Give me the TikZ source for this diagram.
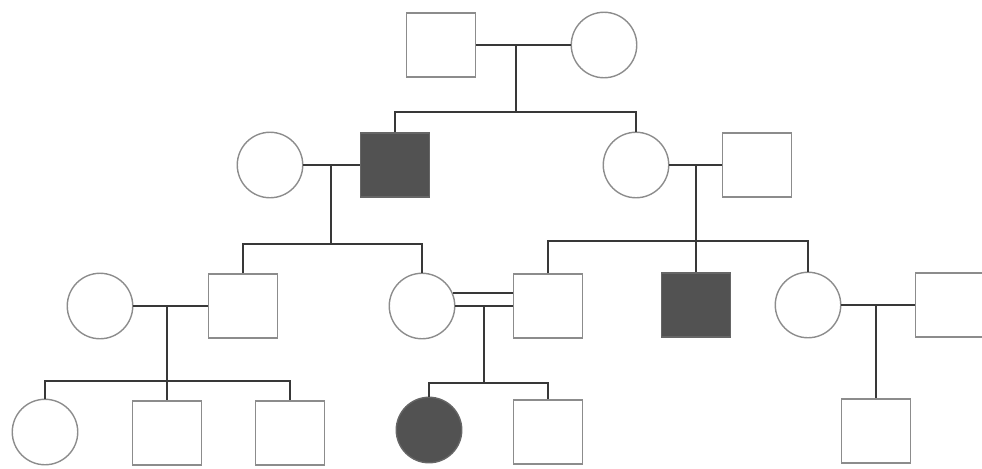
\documentclass[tikz,border=0pt]{standalone}
\begin{document}
\begin{tikzpicture}[x=0.02cm,y=-0.02cm,
		male/.style={draw=black!45,line width=0.8pt,minimum width=1.38cm,minimum height=1.28cm,inner sep=0pt},
		female/.style={circle,draw=black!45,line width=0.8pt,minimum size=1.31cm,inner sep=0pt},
		ill/.style={fill=black!68,draw=black!60},
		link/.style={line width=1.5pt,draw=black!78}]
	\useasboundingbox (0,0) rectangle (982,468);
	
	\node[male] (m1) at (441,45) {};
	\node[female] (f1) at (604,45) {};
	\draw[link] (m1) -- (f1);
	\coordinate (d1) at (516,45);
	\coordinate (s1) at (516,112);
	
	\node[female] (f21) at (270,165) {};
	\node[male,ill] (m22) at (395,165) {};
	\node[female] (f23) at (636,165) {};
	\node[male] (m24) at (757,165) {};
	\draw[link] (d1) -- (s1);
	\draw[link] (m22.north) |- (s1) -| (f23.north);
	\draw[link] (f21) -- (m22);
	\draw[link] (f23) -- (m24);
	\coordinate (d2) at (331,165);
	\coordinate (s2) at (331,244);
	\coordinate (d3) at (696,165);
	\coordinate (s3) at (696,241);
	
	\node[female] (f31) at (100,306) {};
	\node[male] (m32) at (243,306) {};
	\node[female] (f33) at (422,306) {};
	\node[male] (m34) at (548,306) {};
	\node[male,ill] (m35) at (696,305) {};
	\node[female] (f36) at (808,305) {};
	\node[male] (m37) at (950,305) {};
	\draw[link] (d2) -- (s2);
	\draw[link] (m32.north) |- (s2) -| (f33.north);
	\draw[link] (d3) -- (m35.north);
	\draw[link] (m34.north) |- (s3) -| (f36.north);
	\draw[link] (f31) -- (m32);
	\draw[link] (f33) -- (m34);
	\draw[link] (f33.23) -- (f33.23 -| m34.west);
	\draw[link] (f36) -- (m37);
	\coordinate (d4) at (167,306);
	\coordinate (s4) at (167,381);
	\coordinate (d5) at (484,306);
	\coordinate (s5) at (484,383);
	\coordinate (d6) at (876,305);
	
	\node[female] (f41) at (45,432) {};
	\node[male] (m42) at (167,433) {};
	\node[male] (m43) at (290,433) {};
	\node[female,ill] (f44) at (429,430) {};
	\node[male] (m45) at (548,432) {};
	\node[male] (m46) at (876,431) {};
	\draw[link] (d4) -- (m42.north);
	\draw[link] (f41.north) |- (s4) -| (m43.north);
	\draw[link] (d5) -- (s5);
	\draw[link] (f44.north) |- (s5) -| (m45.north);
	\draw[link] (d6) -- (m46.north);
\end{tikzpicture}
\end{document}
